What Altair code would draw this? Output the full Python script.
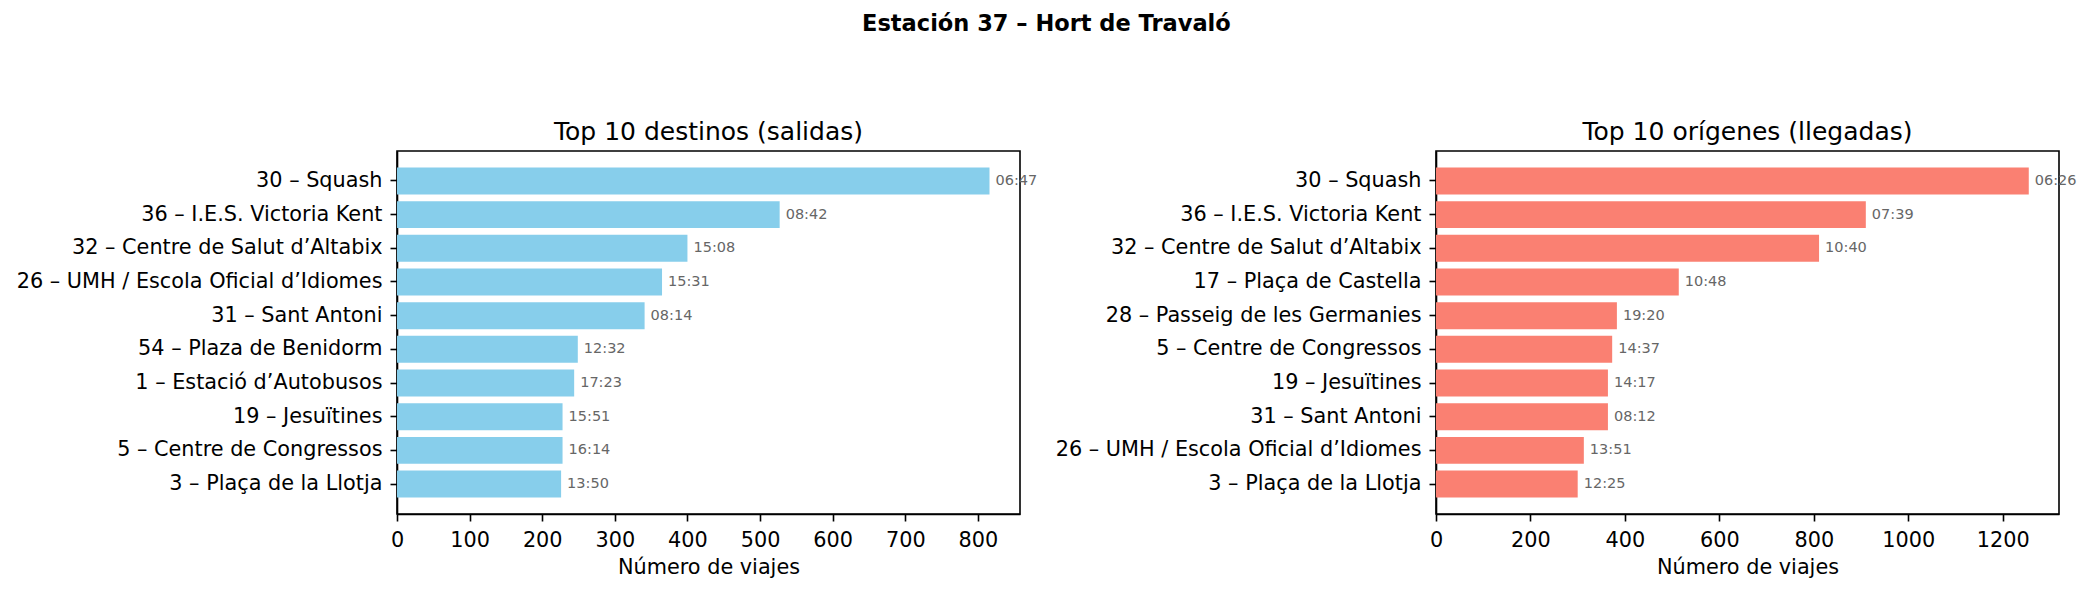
import altair as alt
import pandas as pd

dest_names = ["30 – Squash", "36 – I.E.S. Victoria Kent", "32 – Centre de Salut d’Altabix",
              "26 – UMH / Escola Oficial d’Idiomes", "31 – Sant Antoni", "54 – Plaza de Benidorm",
              "1 – Estació d’Autobusos", "19 – Jesuïtines", "5 – Centre de Congressos",
              "3 – Plaça de la Llotja"]
dest_counts = [816, 527, 400, 365, 341, 249, 244, 228, 228, 226]
dest_times = ["06:47", "08:42", "15:08", "15:31", "08:14", "12:32", "17:23", "15:51", "16:14", "13:50"]

orig_names = ["30 – Squash", "36 – I.E.S. Victoria Kent", "32 – Centre de Salut d’Altabix",
              "17 – Plaça de Castella", "28 – Passeig de les Germanies", "5 – Centre de Congressos",
              "19 – Jesuïtines", "31 – Sant Antoni", "26 – UMH / Escola Oficial d’Idiomes",
              "3 – Plaça de la Llotja"]
orig_counts = [1255, 910, 811, 514, 383, 373, 364, 364, 313, 300]
orig_times = ["06:26", "07:39", "10:40", "10:48", "19:20", "14:37", "14:17", "08:12", "13:51", "12:25"]

FONT = "DejaVu Sans"


def panel(names, counts, times, color, title, xmax, ticks):
    df = pd.DataFrame({"name": names, "count": counts, "time": times})
    x = alt.X("count:Q", title="Número de viajes",
              scale=alt.Scale(domain=[0, xmax], nice=False, zero=True),
              axis=alt.Axis(values=ticks, grid=False, tickSize=7, tickWidth=1.6,
                            domainColor="black", tickColor="black", domainWidth=1.6,
                            labelFontSize=20.8, labelColor="black", labelFont=FONT,
                            labelPadding=9, titleFontSize=20.8, titleFont=FONT,
                            titleFontWeight="normal", titleColor="black", titlePadding=8,
                            labelFlush=False, format="d"))
    y = alt.Y("name:N", sort=names, title=None,
              scale=alt.Scale(paddingInner=0.2, paddingOuter=0.49),
              axis=alt.Axis(tickSize=7, tickWidth=1.6, domainColor="black", tickColor="black",
                            domainWidth=1.6, labelFontSize=20.8, labelColor="black",
                            labelFont=FONT, labelPadding=8, labelLimit=1000, grid=False))
    bars = alt.Chart(df).mark_bar(color=color).encode(x=x, y=y)
    text = alt.Chart(df).mark_text(align="left", baseline="middle", dx=6, fontSize=14.5,
                                   font=FONT, color="#666666").encode(
        x="count:Q", y=alt.Y("name:N", sort=names), text="time:N")
    return alt.layer(bars, text).properties(
        width=623, height=363,
        title=alt.TitleParams(title, fontSize=25, fontWeight="normal", font=FONT,
                              color="black", offset=6, anchor="middle"))


left = panel(dest_names, dest_counts, dest_times, "#87CEEB", "Top 10 destinos (salidas)",
             858, [0, 100, 200, 300, 400, 500, 600, 700, 800])
right = panel(orig_names, orig_counts, orig_times, "#FA8072", "Top 10 orígenes (llegadas)",
              1319, [0, 200, 400, 600, 800, 1000, 1200])

chart = alt.hconcat(left, right, spacing=416, bounds="flush").properties(
    title=alt.TitleParams("Estación 37 – Hort de Travaló", fontSize=22.5, fontWeight="bold",
                          font=FONT, color="black", anchor="middle", offset=84),
    padding={"left": 15, "top": 12, "right": 5, "bottom": 5},
    background="white",
).configure_view(stroke="black", strokeWidth=1.6)

chart.save("out.html", embed_options={"renderer": "svg", "actions": False})
